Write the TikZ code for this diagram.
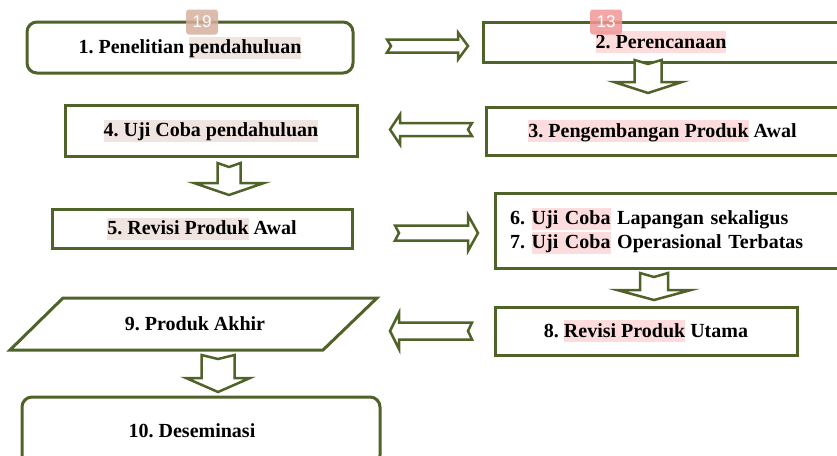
\documentclass[tikz,border=0pt]{standalone}
\usepackage{fontspec}
\setmainfont{Liberation Serif}
\newfontfamily\badgefont{Liberation Sans}
\definecolor{boxgreen}{RGB}{79,98,40}
\definecolor{pinkhl}{RGB}{252,220,221}
\definecolor{beigehl}{RGB}{239,228,223}
\definecolor{badgetan}{RGB}{214,176,158}
\definecolor{badgepink}{RGB}{240,150,150}
\newcommand\hlt[2]{{\setlength{\fboxsep}{0pt}\colorbox{#1}{\rule[-5pt]{0pt}{22pt}#2}}}
% horizontal block arrow: tail x, tip x, centre y, shaft half, head half, head length (signed), notch (signed)
\newcommand\harrow[7]{\draw[arr] ({#1},{#3-#4}) -- ({#2-(#6)},{#3-#4}) -- ({#2-(#6)},{#3-#5}) -- ({#2},{#3}) -- ({#2-(#6)},{#3+#5}) -- ({#2-(#6)},{#3+#4}) -- ({#1},{#3+#4}) -- ({#1+(#7)},{#3}) -- cycle;}
% downward block arrow: centre x, top y, tip y, shaft half, head half, head length, notch
\newcommand\varrow[7]{\draw[arr] ({#1-#4},{#2}) -- ({#1-#4},{#3-#6}) -- ({#1-#5},{#3-#6}) -- ({#1},{#3}) -- ({#1+#5},{#3-#6}) -- ({#1+#4},{#3-#6}) -- ({#1+#4},{#2}) -- ({#1},{#2+#7}) -- cycle;}
\frenchspacing
\begin{document}
\begin{tikzpicture}[x=1pt,y=-1pt,
  box/.style={draw=boxgreen, line width=3pt, fill=white, font=\fontsize{20}{24}\selectfont\bfseries\frenchspacing, align=center, inner sep=0pt},
  txt/.style={font=\fontsize{20}{24}\selectfont\bfseries\frenchspacing, inner sep=0pt},
  arr/.style={draw=boxgreen, line width=2.5pt, fill=white, line join=miter},
  badge/.style={rounded corners=3pt, minimum width=32pt, minimum height=25pt, text=white, font=\badgefont\fontsize{17}{17}\selectfont, fill opacity=0.85, text opacity=1, inner sep=0pt}]
\useasboundingbox (0,0) rectangle (837,455);
% boxes
\node[box, rounded corners=10pt, minimum width=326pt, minimum height=51pt] (b1) at (190,47.5) {1. Penelitian \hlt{beigehl}{pendahuluan}};
\node[box, minimum width=356pt, minimum height=40pt] (b2) at (661,42) {\hlt{pinkhl}{2. Perencanaan}};
\node[box, minimum width=353pt, minimum height=48pt] (b3) at (662.5,131) {\hlt{pinkhl}{3. Pengembangan Produk} Awal};
\node[box, minimum width=292pt, minimum height=51pt] (b4) at (211,130.5) {\hlt{beigehl}{4. Uji Coba pendahuluan}};
\node[box, minimum width=300pt, minimum height=39pt] (b5) at (202,228.5) {\hlt{beigehl}{5. Revisi Produk} Awal};
\node[box, minimum width=344pt, minimum height=75pt, text width=314pt, align=left] (b6) at (667,230.5) {6. \hlt{pinkhl}{Uji Coba} Lapangan sekaligus\\7. \hlt{pinkhl}{Uji Coba} Operasional Terbatas};
\node[box, minimum width=302pt, minimum height=48pt] (b8) at (646,331) {8. \hlt{pinkhl}{Revisi Produk} Utama};
\draw[draw=boxgreen, line width=3pt, line join=miter, fill=white] (63,298) -- (377,298) -- (323,350) -- (10,350) -- cycle;
\node[txt] (b9) at (195,324) {9. Produk Akhir};
\node[box, rounded corners=10pt, minimum width=358pt, minimum height=68pt] (b10) at (201,431) {\hspace*{-18pt}10. Deseminasi};
% block arrows
\harrow{387}{468}{46}{6.5}{13.5}{10}{4}
\varrow{648}{60}{93}{13.5}{34}{11}{4}
\harrow{472}{390}{129.5}{6.5}{15}{-10}{-4}
\varrow{229}{163}{195}{11.5}{35}{12}{4}
\harrow{395}{478}{233}{7.5}{18}{10}{4}
\varrow{654}{273}{300}{14}{37}{10}{4}
\harrow{472}{390}{331}{8.5}{18}{-9}{-4}
\varrow{218}{355}{392}{16.5}{32}{14}{4}
% annotation badges
\node[badge, fill=badgetan] (n19) at (202,22) {19};
\node[badge, fill=badgepink] (n13) at (606,22) {13};
\end{tikzpicture}
\end{document}
